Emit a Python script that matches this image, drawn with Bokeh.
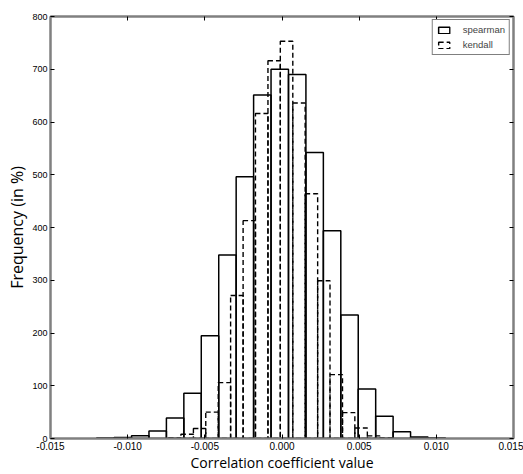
from bokeh.plotting import figure
from bokeh.models import LinearAxis, FixedTicker, PrintfTickFormatter, Legend, LegendItem, ColumnDataSource
from bokeh.embed import file_html
from bokeh.resources import INLINE

# ---- data ----
spearman_edges = [-0.01201, -0.01088, -0.00975, -0.00862, -0.00749, -0.00636, -0.00523,
                  -0.00410, -0.00297, -0.00184, -0.00071, 0.00042, 0.00155, 0.00268,
                  0.00381, 0.00494, 0.00607, 0.00720, 0.00833, 0.00946, 0.01059]
spearman_freq = [1, 2, 5, 14, 39, 86, 195, 348, 496, 651, 700, 690, 542, 394, 234, 94, 42, 13, 3, 1]

kendall_edges = [-0.00735, -0.00655, -0.00574, -0.00494, -0.00413, -0.00333, -0.00252,
                 -0.00172, -0.00091, -0.00011, 0.00070, 0.00150, 0.00231, 0.00311,
                 0.00392, 0.00472, 0.00553, 0.00633, 0.00714]
kendall_freq = [1, 8, 19, 50, 106, 271, 413, 616, 716, 753, 636, 464, 299, 121, 49, 20, 5, 1]

x_ticks = [-0.015, -0.010, -0.005, 0.000, 0.005, 0.010, 0.015]
y_ticks = [0, 100, 200, 300, 400, 500, 600, 700, 800]

series_names = ["spearman", "kendall"]
x_label = "Correlation coefficient value"
y_label = "Frequency (in %)"

FRAME = "#808080"
TICK_FONT = "Liberation Sans"
LABEL_FONT = "Open Sans"

p = figure(width=523, height=474, x_range=(-0.015, 0.015), y_range=(0, 800),
           output_backend="svg", toolbar_location=None,
           min_border_left=50, min_border_right=10, min_border_top=16, min_border_bottom=34)
p.grid.visible = False
p.background_fill_color = "white"
p.outline_line_color = FRAME
p.outline_line_width = 2

sp_src = ColumnDataSource(dict(left=spearman_edges[:-1], right=spearman_edges[1:],
                               top=spearman_freq, bottom=[0] * len(spearman_freq)))
kd_src = ColumnDataSource(dict(left=kendall_edges[:-1], right=kendall_edges[1:],
                               top=kendall_freq, bottom=[0] * len(kendall_freq)))

r_sp = p.quad(left="left", right="right", top="top", bottom="bottom", source=sp_src,
              fill_color=None, line_color="black", line_width=1.5)
r_kd = p.quad(left="left", right="right", top="top", bottom="bottom", source=kd_src,
              fill_color=None, line_color="black", line_width=1.4, line_dash="5 3")

# axes
for ax in [p.xaxis[0], p.yaxis[0]]:
    ax.axis_line_color = FRAME
    ax.axis_line_width = 2
    ax.major_tick_in = 4
    ax.major_tick_out = 0
    ax.major_tick_line_color = "black"
    ax.minor_tick_line_color = None
    ax.major_label_text_font = TICK_FONT
    ax.major_label_text_color = "black"
    ax.axis_label_text_font = LABEL_FONT
    ax.axis_label_text_font_style = "normal"
    ax.axis_label_text_color = "black"

p.xaxis[0].ticker = FixedTicker(ticks=x_ticks)
p.xaxis[0].formatter = PrintfTickFormatter(format="%.3f")
p.xaxis[0].axis_label = x_label
p.xaxis[0].axis_label_text_font_size = "14px"
p.xaxis[0].major_label_text_font_size = "10px"
p.xaxis[0].major_label_standoff = 3
p.xaxis[0].axis_label_standoff = 0

p.yaxis[0].ticker = FixedTicker(ticks=y_ticks)
p.yaxis[0].axis_label = y_label
p.yaxis[0].axis_label_text_font_size = "16px"
p.yaxis[0].major_label_text_font_size = "9px"
p.yaxis[0].major_label_standoff = 3
p.yaxis[0].axis_label_standoff = 1

# ticks on the top and right sides of the frame (matplotlib classic look)
top_ax = LinearAxis(ticker=FixedTicker(ticks=x_ticks), major_label_text_font_size="0px",
                    major_label_standoff=0, major_tick_in=4, major_tick_out=0,
                    minor_tick_line_color=None, axis_line_color=FRAME, axis_line_width=2)
right_ax = LinearAxis(ticker=FixedTicker(ticks=y_ticks), major_label_text_font_size="0px",
                      major_label_standoff=0, major_tick_in=4, major_tick_out=0,
                      minor_tick_line_color=None, axis_line_color=FRAME, axis_line_width=2)
p.add_layout(top_ax, "above")
p.add_layout(right_ax, "right")

legend = Legend(items=[LegendItem(label=series_names[0], renderers=[r_sp]),
                       LegendItem(label=series_names[1], renderers=[r_kd])],
                location="top_right")
legend.margin = 3
legend.padding = 4
legend.spacing = 4
legend.glyph_width = 14
legend.glyph_height = 8
legend.label_standoff = 12
legend.label_text_font = TICK_FONT
legend.label_text_font_size = "9.5px"
legend.label_height = 10
legend.border_line_color = "black"
legend.border_line_width = 1
legend.background_fill_alpha = 1
p.add_layout(legend, "center")

open("out.html", "w").write(file_html(p, INLINE))
